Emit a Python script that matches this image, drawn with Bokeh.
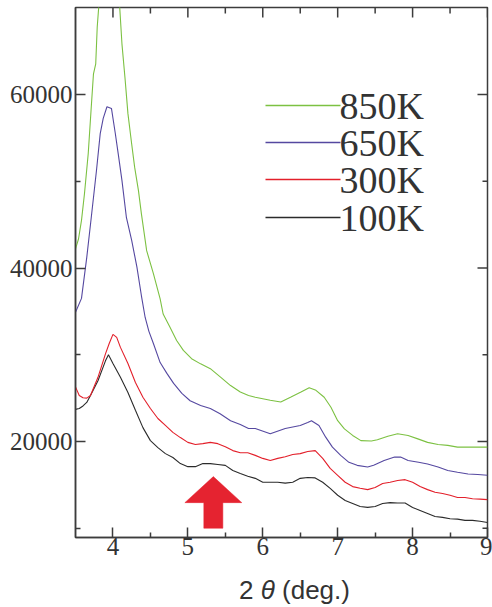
from bokeh.plotting import figure
from bokeh.models import Range1d, FixedTicker, Label, Div
from bokeh.layouts import column
from bokeh.embed import file_html
from bokeh.resources import INLINE

# ---------------- data ----------------
x_100K = [3.5, 3.55, 3.6, 3.65, 3.7, 3.8, 3.9, 3.94, 4.0, 4.1, 4.2, 4.3, 4.4, 4.5, 4.6, 4.7, 4.8, 4.9,
          5.0, 5.1, 5.2, 5.3, 5.4, 5.5, 5.6, 5.7, 5.8, 5.9, 6.0, 6.1, 6.2, 6.3, 6.4, 6.5, 6.6, 6.7,
          6.8, 6.9, 7.0, 7.1, 7.2, 7.3, 7.4, 7.5, 7.6, 7.7, 7.8, 7.9, 8.0, 8.1, 8.2, 8.3, 8.4, 8.5,
          8.6, 8.7, 8.8, 8.9, 9.0]
y_100K = [23700, 23800, 24100, 24500, 25300, 27000, 29300, 30000, 29000, 27400, 25650, 23600, 21600,
          20100, 19300, 18600, 18150, 17450, 17100, 17100, 17450, 17450, 17350, 17250, 16650, 16300,
          16000, 15750, 15300, 15300, 15300, 15200, 15300, 15750, 15850, 15800, 15300, 14600, 13800,
          13200, 12850, 12500, 12400, 12500, 12850, 12950, 12900, 12900, 12400, 12050, 11700, 11350,
          11250, 11100, 11050, 10900, 10900, 10800, 10650]

x_300K = [3.5, 3.55, 3.6, 3.65, 3.7, 3.8, 3.9, 3.95, 4.0, 4.05, 4.1, 4.2, 4.3, 4.4, 4.5, 4.6, 4.7,
          4.8, 4.9, 5.0, 5.1, 5.2, 5.3, 5.4, 5.5, 5.6, 5.7, 5.8, 5.9, 6.0, 6.1, 6.2, 6.3, 6.4, 6.5,
          6.6, 6.7, 6.8, 6.9, 7.0, 7.1, 7.2, 7.3, 7.4, 7.5, 7.6, 7.7, 7.8, 7.9, 8.0, 8.1, 8.2, 8.3,
          8.4, 8.5, 8.6, 8.7, 8.8, 8.9, 9.0]
y_300K = [26300, 25300, 25050, 25000, 25300, 27400, 30100, 31300, 32350, 32000, 30850, 29000, 26800,
          25100, 23800, 22650, 21850, 21050, 20450, 19900, 19650, 19750, 19900, 19750, 19400, 18950,
          18700, 18700, 18400, 18050, 17800, 18050, 18250, 18500, 18600, 18850, 18950, 18050, 16900,
          16100, 15300, 14800, 14600, 14450, 14700, 15150, 15300, 15500, 15600, 15300, 14800, 14450,
          14150, 14000, 13800, 13550, 13550, 13400, 13350, 13300]

x_650K = [3.5, 3.58, 3.65, 3.71, 3.78, 3.83, 3.87, 3.92, 3.98, 4.03, 4.07, 4.12, 4.18, 4.25, 4.32,
          4.38, 4.43, 4.48, 4.54, 4.63, 4.72, 4.81, 4.92, 5.03, 5.17, 5.30, 5.43, 5.57, 5.70, 5.81,
          5.9, 6.1, 6.3, 6.5, 6.6, 6.65, 6.75, 6.84, 6.93, 7.04, 7.15, 7.26, 7.4, 7.48, 7.62, 7.76,
          7.84, 7.94, 8.08, 8.2, 8.34, 8.47, 8.6, 8.74, 8.87, 9.0]
y_650K = [34900, 36500, 41200, 45800, 51250, 55500, 57250, 58600, 58400, 55600, 53200, 50100, 45800,
          43200, 40100, 36800, 34300, 32700, 31300, 29100, 27850, 26700, 25550, 24700, 24150, 23800,
          23200, 22400, 21950, 21500, 21500, 20900, 21500, 21850, 22200, 22400, 21850, 20500, 19350,
          18400, 17600, 17250, 17050, 17250, 17800, 18200, 18200, 17800, 17600, 17400, 17050, 16650,
          16450, 16250, 16200, 16100]

x_850K = [3.5, 3.54, 3.58, 3.62, 3.67, 3.71, 3.74, 3.77, 3.79, 3.81, 3.95, 4.09, 4.12, 4.16, 4.2,
          4.25, 4.29, 4.34, 4.38, 4.45, 4.54, 4.63, 4.67, 4.76, 4.85, 4.94, 5.05, 5.17, 5.3, 5.44,
          5.57, 5.7, 5.81, 5.9, 6.1, 6.24, 6.37, 6.51, 6.62, 6.71, 6.82, 6.91, 7.0, 7.09, 7.2, 7.31,
          7.45, 7.53, 7.67, 7.8, 7.94, 8.07, 8.2, 8.34, 8.47, 8.6, 8.74, 8.87, 9.0]
y_850K = [42200, 43350, 45500, 48600, 53200, 58500, 62400, 63550, 67800, 70100, 76000, 70100, 65850,
          62000, 57800, 54300, 51600, 48950, 46250, 42000, 39350, 36450, 34700, 33200, 31650, 30500,
          29550, 28950, 28400, 27400, 26450, 25700, 25300, 25100, 24750, 24550, 25100, 25700, 26200,
          25900, 25100, 23950, 22400, 21450, 20700, 20100, 20050, 20200, 20600, 20900, 20700, 20300,
          19900, 19650, 19550, 19350, 19350, 19350, 19350]

series_labels = ["850K", "650K", "300K", "100K"]
x_ticks = [4, 5, 6, 7, 8, 9]
x_minor = [4.5, 5.5, 6.5, 7.5, 8.5]
y_ticks = [20000, 40000, 60000]
y_minor = [10000, 30000, 50000]

# ---------------- styling / layout ----------------
GREEN, BLUE, RED, BLACK = "#7cc142", "#5548a0", "#e3202b", "#2b2b2b"
AXC, TXT = "#3c3c3c", "#333333"
X0, X1, Y0, Y1 = 3.5, 9.0, 8930, 70040
FRAME_L, FRAME_T, FRAME_W, FRAME_H = 75, 7, 412, 530   # page pixels
FIG_H = 572


def xd(px):
    return X0 + (px - FRAME_L) / FRAME_W * (X1 - X0)


def yd(py):
    return Y1 - (py - FRAME_T) / FRAME_H * (Y1 - Y0)


DX = (X1 - X0) / FRAME_W   # data per pixel
DY = (Y1 - Y0) / FRAME_H

p = figure(width=FRAME_L + FRAME_W + 5, height=FIG_H,
           x_range=Range1d(X0, X1), y_range=Range1d(Y0, Y1),
           output_backend="svg", toolbar_location=None,
           min_border_left=FRAME_L, min_border_right=5, min_border_top=FRAME_T,
           min_border_bottom=FIG_H - FRAME_T - FRAME_H)
p.grid.visible = False
p.outline_line_color = AXC
p.outline_line_width = 1.5
p.background_fill_color = "white"


def style(ax, ticks, minor):
    ax.ticker = FixedTicker(ticks=ticks, minor_ticks=minor)
    ax.axis_line_color = AXC
    ax.axis_line_width = 1.5
    ax.major_tick_line_color = AXC
    ax.major_tick_line_width = 1.5
    ax.minor_tick_line_color = AXC
    ax.minor_tick_line_width = 1.5
    ax.major_tick_in = 10
    ax.major_tick_out = 0
    ax.minor_tick_in = 5
    ax.minor_tick_out = 0
    ax.major_label_text_font = "Liberation Serif"
    ax.major_label_text_font_size = "25px"
    ax.major_label_text_color = TXT


style(p.xaxis[0], x_ticks, x_minor)
p.xaxis[0].major_label_standoff = 0
style(p.yaxis[0], y_ticks, y_minor)
p.yaxis[0].major_label_standoff = 3

# inward ticks on the top and right edges of the frame
p.segment(x0=x_ticks, x1=x_ticks, y0=[Y1] * len(x_ticks), y1=[Y1 - 10 * DY] * len(x_ticks),
          line_color=AXC, line_width=1.5)
p.segment(x0=x_minor, x1=x_minor, y0=[Y1] * len(x_minor), y1=[Y1 - 6 * DY] * len(x_minor),
          line_color=AXC, line_width=1.5)
p.segment(x0=[X1] * len(y_ticks), x1=[X1 - 10 * DX] * len(y_ticks), y0=y_ticks, y1=y_ticks,
          line_color=AXC, line_width=1.5)
p.segment(x0=[X1] * len(y_minor), x1=[X1 - 5 * DX] * len(y_minor), y0=y_minor, y1=y_minor,
          line_color=AXC, line_width=1.5)

# curves
for xs, ys, c in [(x_100K, y_100K, BLACK), (x_300K, y_300K, RED),
                  (x_650K, y_650K, BLUE), (x_850K, y_850K, GREEN)]:
    p.line(xs, ys, line_color=c, line_width=1.1)

# legend (manual, to match the reference's spacing)
leg_colors = [GREEN, BLUE, RED, BLACK]
leg_y_px = [105, 142, 179, 217]
p.segment(x0=[xd(265)] * 4, x1=[xd(340)] * 4, y0=[yd(v) for v in leg_y_px],
          y1=[yd(v) for v in leg_y_px], line_color=leg_colors, line_width=1.3)
for lab, ypx in zip(series_labels, leg_y_px):
    p.add_layout(Label(x=xd(339), y=yd(ypx), text=lab, text_font="Liberation Serif",
                       text_font_size="38px", text_color=TXT, text_baseline="alphabetic"))

# red arrow
ARROW_X, ARROW_TIP, ARROW_NECK, ARROW_TAIL = 5.34, 15950, 12950, 10000
HEAD_HALF, SHAFT_HALF = 0.38, 0.127
ax_ = [ARROW_X, ARROW_X + HEAD_HALF, ARROW_X + SHAFT_HALF, ARROW_X + SHAFT_HALF,
       ARROW_X - SHAFT_HALF, ARROW_X - SHAFT_HALF, ARROW_X - HEAD_HALF]
ay_ = [ARROW_TIP, ARROW_NECK, ARROW_NECK, ARROW_TAIL, ARROW_TAIL, ARROW_NECK, ARROW_NECK]
p.patch(ax_, ay_, fill_color="#e52330", line_color="#e52330", line_width=0.5)

# x-axis title "2 θ (deg.)" with italic theta, as real HTML text below the plot
title = Div(text='<div style="margin:4px 0 0 239px; white-space:nowrap; '
                 'font-family:\'Liberation Sans\'; font-size:26px; color:#333333; '
                 'line-height:29px;">2 <i>&theta;</i> (deg.)</div>',
            width=FRAME_L + FRAME_W + 5, height=33, margin=0)

layout = column(p, title, spacing=0, margin=0)
open("out.html", "w").write(file_html(layout, INLINE))
